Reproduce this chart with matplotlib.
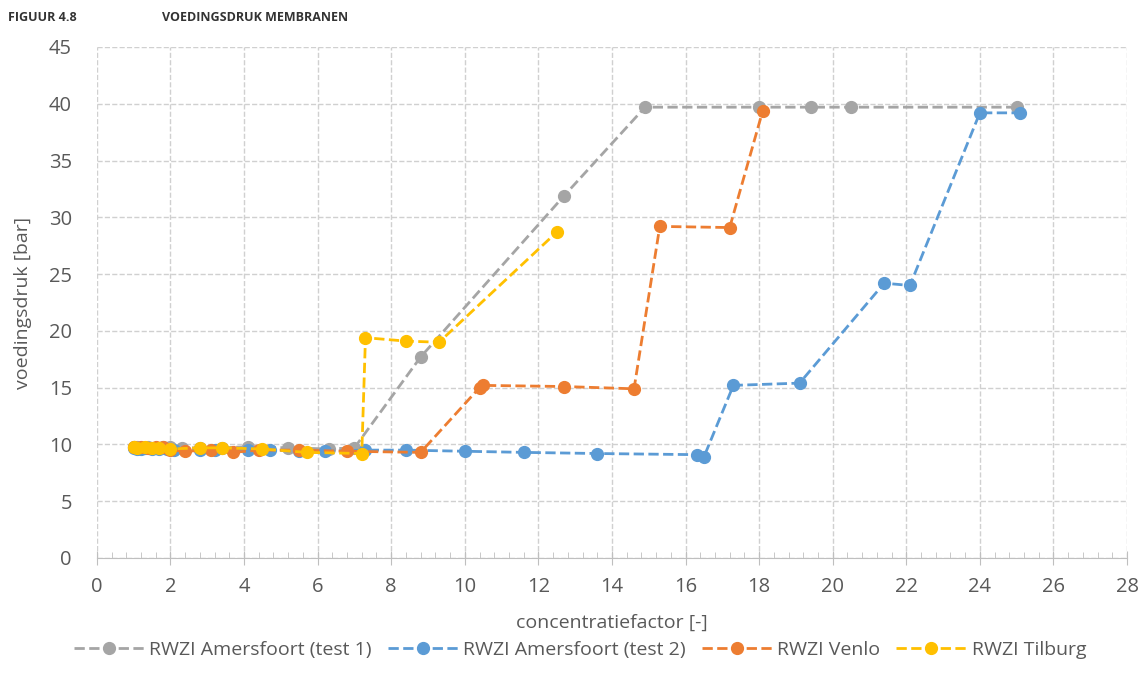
import numpy as np
import matplotlib
matplotlib.use('Agg')
import matplotlib.pyplot as plt
from matplotlib.ticker import MultipleLocator

plt.rcParams['font.family'] = ['Open Sans', 'DejaVu Sans']

# RWZI Amersfoort (test 1)
x_ams1 = [1.0, 1.1, 1.2, 1.4, 1.6, 1.8, 2.0, 2.3, 2.8, 3.4, 4.1, 5.2, 6.3, 7.0, 8.8, 12.7, 14.9, 18.0, 19.4, 20.5, 25.0]
y_ams1 = [9.8, 9.8, 9.7, 9.8, 9.7, 9.8, 9.8, 9.7, 9.7, 9.7, 9.8, 9.7, 9.6, 9.7, 17.7, 31.9, 39.7, 39.7, 39.7, 39.7, 39.7]

# RWZI Amersfoort (test 2)
x_ams2 = [1.0, 1.1, 1.2, 1.3, 1.5, 1.7, 1.9, 2.1, 2.8, 3.2, 4.1, 4.7, 5.5, 6.2, 7.3, 8.4, 10.0, 11.6, 13.6, 16.3, 16.5, 17.3, 19.1, 21.4, 22.1, 24.0, 25.1]
y_ams2 = [9.7, 9.6, 9.6, 9.7, 9.6, 9.6, 9.6, 9.5, 9.5, 9.5, 9.5, 9.5, 9.4, 9.4, 9.5, 9.5, 9.4, 9.3, 9.2, 9.1, 8.9, 15.2, 15.4, 24.2, 24.0, 39.2, 39.2]

# RWZI Venlo
x_venlo = [1.0, 1.2, 1.4, 1.6, 1.8, 2.0, 2.4, 3.1, 3.7, 4.4, 5.5, 6.8, 8.8, 10.4, 10.5, 12.7, 14.6, 15.3, 17.2, 18.1]
y_venlo = [9.8, 9.8, 9.7, 9.8, 9.8, 9.5, 9.4, 9.5, 9.3, 9.5, 9.5, 9.4, 9.3, 15.0, 15.2, 15.1, 14.9, 29.2, 29.1, 39.4]

# RWZI Tilburg
x_tilb = [1.0, 1.1, 1.3, 1.5, 1.7, 2.0, 2.8, 3.4, 4.5, 5.7, 7.2, 7.3, 8.4, 9.3, 12.5]
y_tilb = [9.8, 9.7, 9.8, 9.7, 9.7, 9.6, 9.7, 9.7, 9.6, 9.3, 9.2, 19.4, 19.1, 19.0, 28.7]

fig = plt.figure(figsize=(11.4, 6.86), dpi=100)
ax = fig.add_axes([0.085, 0.1866, 0.9036, 0.7449])

txt = '#595959'
ms = 8.5
ax.plot(x_ams1, y_ams1, '--o', color='#A5A5A5', lw=2, ms=ms, label='RWZI Amersfoort (test 1)')
ax.plot(x_ams2, y_ams2, '--o', color='#5B9BD5', lw=2, ms=ms, label='RWZI Amersfoort (test 2)')
ax.plot(x_venlo, y_venlo, '--o', color='#ED7D31', lw=2, ms=ms, label='RWZI Venlo')
ax.plot(x_tilb, y_tilb, '--o', color='#FFC000', lw=2, ms=ms, label='RWZI Tilburg')

ax.set_xlim(0, 28)
ax.set_ylim(0, 45)
ax.xaxis.set_major_locator(MultipleLocator(2))
ax.xaxis.set_minor_locator(MultipleLocator(0.4))
ax.yaxis.set_major_locator(MultipleLocator(5))
ax.grid(True, which='major', color='#D0D0D0', ls='--', lw=1)
ax.set_axisbelow(True)
for s in ['top', 'right', 'left']:
    ax.spines[s].set_visible(False)
ax.spines['bottom'].set_color('#BFBFBF')
ax.tick_params(axis='x', which='major', direction='inout', length=10, color='#BFBFBF', labelsize=14.5, labelcolor=txt, pad=9)
ax.tick_params(axis='x', which='minor', direction='in', length=4, color='#BFBFBF')
ax.tick_params(axis='y', length=0, labelsize=14.5, labelcolor=txt, pad=18)

ax.set_xlabel('concentratiefactor [-]', fontsize=14, color=txt, labelpad=12)
ax.set_ylabel('voedingsdruk [bar]', fontsize=14, color=txt, labelpad=12)

ax.legend(loc='upper center', bbox_to_anchor=(0.469, -0.128), ncol=4, frameon=False,
          fontsize=14, labelcolor=txt, handlelength=3.6, columnspacing=0.8, handletextpad=0.3)

fig.text(0.007, 0.975, 'FIGUUR 4.8', fontsize=9, fontweight='bold', color='#333333', va='center')
fig.text(0.142, 0.975, 'VOEDINGSDRUK MEMBRANEN', fontsize=9, fontweight='bold', color='#333333', va='center')

fig.savefig('out.png', dpi=100)
